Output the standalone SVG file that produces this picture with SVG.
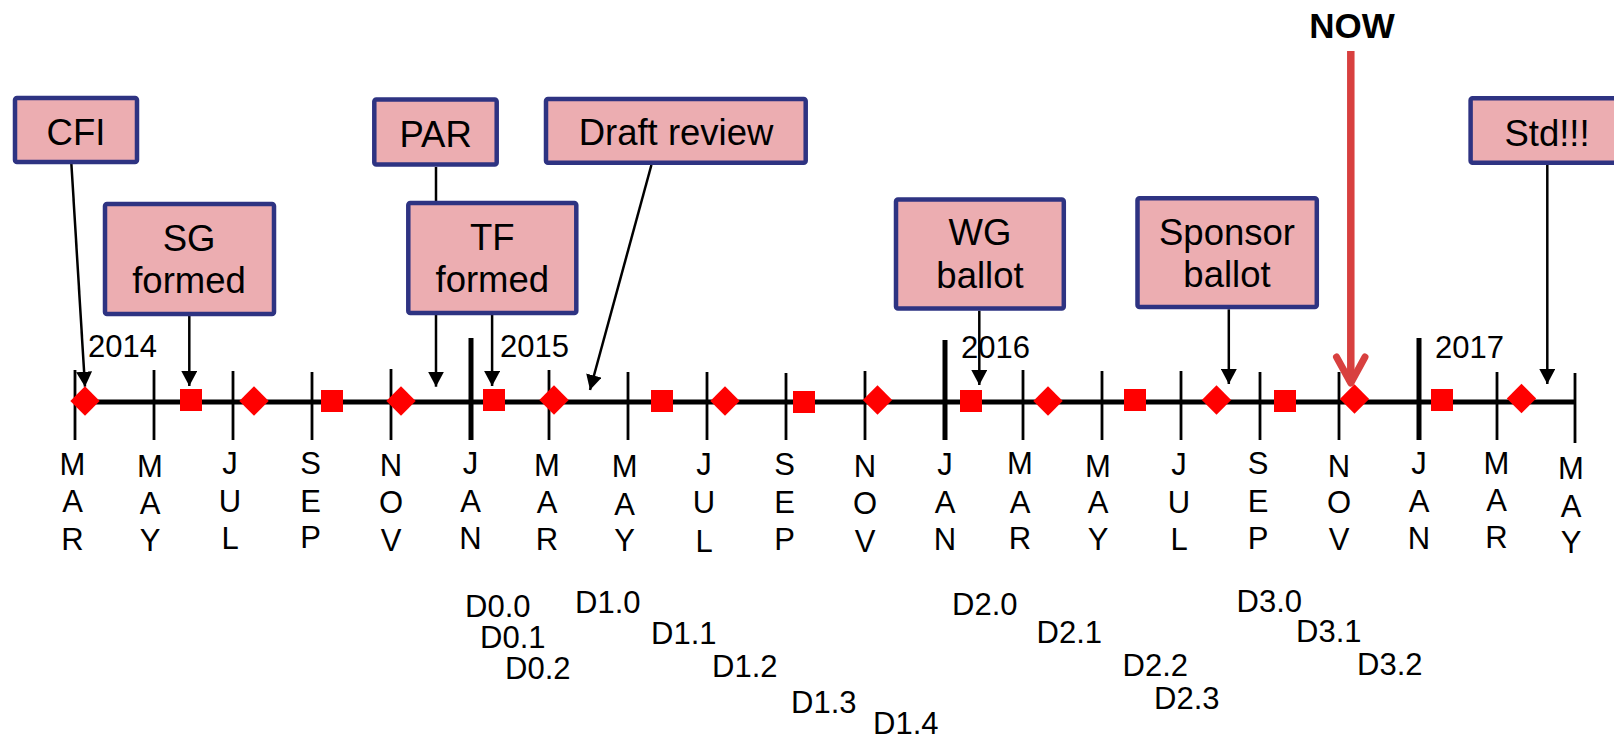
<svg xmlns="http://www.w3.org/2000/svg" width="1614" height="741" viewBox="0 0 1614 741">
<style>
  text { font-family: "Liberation Sans", Arial, sans-serif; fill: #000; }
  .box { fill: #ecadb1; stroke: #2e3382; stroke-width: 4.5; }
  .lbl { font-size: 36.5px; text-anchor: middle; }
  .mon { font-size: 31px; text-anchor: middle; }
  .yr { font-size: 31px; }
  .dr { font-size: 31px; }
  .conn { stroke: #000; stroke-width: 2.5; fill: none; marker-end: url(#ah); }
  .tick { stroke: #000; stroke-width: 2.8; }
  .ytick { stroke: #000; stroke-width: 5; }
  .dia { fill: #ff0000; }
  .sq { fill: #ff0000; }
</style>
<defs>
  <marker id="ah" markerUnits="userSpaceOnUse" viewBox="0 0 15 16" refX="15" refY="8" markerWidth="15" markerHeight="16" orient="auto">
    <path d="M0,0 L15,8 L0,16 z" fill="#000"/>
  </marker>
  <path id="d" d="M0,-14.7 L14.7,0 L0,14.7 L-14.7,0 z"/>
</defs>
<rect width="1614" height="741" fill="#fff"/>

<g id="connectors">
  <line class="conn" x1="71.4" y1="164" x2="85" y2="386.7"/>
  <line class="conn" x1="189.3" y1="316" x2="189.3" y2="386"/>
  <line class="conn" x1="436" y1="167" x2="436" y2="386.7"/>
  <line class="conn" x1="492.1" y1="315" x2="492.1" y2="386"/>
  <line class="conn" x1="651.4" y1="165" x2="590" y2="390"/>
  <line class="conn" x1="979.3" y1="310.7" x2="979.3" y2="385"/>
  <line class="conn" x1="1228.8" y1="309.3" x2="1228.8" y2="384"/>
  <line class="conn" x1="1547.3" y1="165" x2="1547.3" y2="384"/>
</g>

<g id="timeline">
  <line x1="75" y1="402" x2="1576" y2="402" stroke="#000" stroke-width="4.8"/>
  <g>
    <line class="tick" x1="75" y1="370" x2="75" y2="440"/>
    <line class="tick" x1="154" y1="370" x2="154" y2="440"/>
    <line class="tick" x1="233" y1="371" x2="233" y2="440"/>
    <line class="tick" x1="312" y1="372" x2="312" y2="440"/>
    <line class="tick" x1="391" y1="369" x2="391" y2="440"/>
    <line class="ytick" x1="471" y1="338" x2="471" y2="440"/>
    <line class="tick" x1="549" y1="370" x2="549" y2="440"/>
    <line class="tick" x1="628" y1="372" x2="628" y2="440"/>
    <line class="tick" x1="707" y1="372" x2="707" y2="440"/>
    <line class="tick" x1="786" y1="373" x2="786" y2="440"/>
    <line class="tick" x1="865" y1="371" x2="865" y2="440"/>
    <line class="ytick" x1="945" y1="340" x2="945" y2="440"/>
    <line class="tick" x1="1023" y1="370" x2="1023" y2="440"/>
    <line class="tick" x1="1102" y1="371" x2="1102" y2="440"/>
    <line class="tick" x1="1181" y1="371" x2="1181" y2="440"/>
    <line class="tick" x1="1260" y1="372" x2="1260" y2="440"/>
    <line class="tick" x1="1339" y1="372" x2="1339" y2="440"/>
    <line class="ytick" x1="1419" y1="338" x2="1419" y2="440"/>
    <line class="tick" x1="1497" y1="372" x2="1497" y2="440"/>
    <line class="tick" x1="1575" y1="373" x2="1575" y2="443"/>
  </g>
  <text class="yr" x="88" y="357">2014</text>
  <text class="yr" x="500" y="357">2015</text>
  <text class="yr" x="961" y="358">2016</text>
  <text class="yr" x="1435" y="358">2017</text>
</g>

<g id="now-arrow">
  <text x="1352" y="38" font-size="35" font-weight="bold" text-anchor="middle">NOW</text>
  <line x1="1350.8" y1="51" x2="1350.8" y2="382" stroke="#d8403f" stroke-width="7.5"/>
  <polyline points="1336.5,357 1350.8,383 1365,357" fill="none" stroke="#d8403f" stroke-width="7" stroke-linecap="round" stroke-linejoin="round"/>
</g>

<g id="markers">
  <use href="#d" class="dia" x="85" y="401"/>
  <rect class="sq" x="180" y="389" width="22" height="22"/>
  <use href="#d" class="dia" x="254" y="401"/>
  <rect class="sq" x="321" y="390" width="22" height="22"/>
  <use href="#d" class="dia" x="401" y="401"/>
  <rect class="sq" x="483" y="389" width="22" height="22"/>
  <use href="#d" class="dia" x="554" y="400"/>
  <rect class="sq" x="651" y="390" width="22" height="22"/>
  <use href="#d" class="dia" x="725" y="401"/>
  <rect class="sq" x="793" y="391" width="22" height="22"/>
  <use href="#d" class="dia" x="877.5" y="400"/>
  <rect class="sq" x="960" y="390" width="22" height="22"/>
  <use href="#d" class="dia" x="1048" y="401"/>
  <rect class="sq" x="1124" y="389" width="22" height="22"/>
  <use href="#d" class="dia" x="1216.5" y="400"/>
  <rect class="sq" x="1274" y="390" width="22" height="22"/>
  <use href="#d" class="dia" x="1354.5" y="399"/>
  <rect class="sq" x="1431" y="389" width="22" height="22"/>
  <use href="#d" class="dia" x="1521.5" y="398.5"/>
</g>

<g id="months">
  <text class="mon" x="72.5" y="475">M</text><text class="mon" x="72.5" y="512">A</text><text class="mon" x="72.5" y="550">R</text>
  <text class="mon" x="150" y="477">M</text><text class="mon" x="150" y="514">A</text><text class="mon" x="150" y="551">Y</text>
  <text class="mon" x="230" y="474">J</text><text class="mon" x="230" y="512">U</text><text class="mon" x="230" y="549">L</text>
  <text class="mon" x="310.5" y="474">S</text><text class="mon" x="310.5" y="512">E</text><text class="mon" x="310.5" y="548">P</text>
  <text class="mon" x="391" y="476">N</text><text class="mon" x="391" y="513">O</text><text class="mon" x="391" y="551">V</text>
  <text class="mon" x="470.5" y="474">J</text><text class="mon" x="470.5" y="512">A</text><text class="mon" x="470.5" y="549">N</text>
  <text class="mon" x="547" y="476">M</text><text class="mon" x="547" y="513">A</text><text class="mon" x="547" y="550">R</text>
  <text class="mon" x="624.6" y="477">M</text><text class="mon" x="624.6" y="515">A</text><text class="mon" x="624.6" y="551">Y</text>
  <text class="mon" x="704" y="475">J</text><text class="mon" x="704" y="513">U</text><text class="mon" x="704" y="552">L</text>
  <text class="mon" x="784.6" y="475">S</text><text class="mon" x="784.6" y="513">E</text><text class="mon" x="784.6" y="550">P</text>
  <text class="mon" x="865" y="477">N</text><text class="mon" x="865" y="514">O</text><text class="mon" x="865" y="552">V</text>
  <text class="mon" x="945" y="475">J</text><text class="mon" x="945" y="513">A</text><text class="mon" x="945" y="550">N</text>
  <text class="mon" x="1020" y="474">M</text><text class="mon" x="1020" y="513">A</text><text class="mon" x="1020" y="549">R</text>
  <text class="mon" x="1098" y="477">M</text><text class="mon" x="1098" y="513">A</text><text class="mon" x="1098" y="550">Y</text>
  <text class="mon" x="1179" y="475">J</text><text class="mon" x="1179" y="513">U</text><text class="mon" x="1179" y="550">L</text>
  <text class="mon" x="1258" y="474">S</text><text class="mon" x="1258" y="512">E</text><text class="mon" x="1258" y="549">P</text>
  <text class="mon" x="1339" y="477">N</text><text class="mon" x="1339" y="513">O</text><text class="mon" x="1339" y="550">V</text>
  <text class="mon" x="1419" y="474">J</text><text class="mon" x="1419" y="512">A</text><text class="mon" x="1419" y="549">N</text>
  <text class="mon" x="1496.5" y="474">M</text><text class="mon" x="1496.5" y="511">A</text><text class="mon" x="1496.5" y="548">R</text>
  <text class="mon" x="1571" y="479">M</text><text class="mon" x="1571" y="517">A</text><text class="mon" x="1571" y="553">Y</text>
</g>

<g id="drafts">
  <text class="dr" x="465" y="617">D0.0</text>
  <text class="dr" x="480" y="648">D0.1</text>
  <text class="dr" x="505" y="679">D0.2</text>
  <text class="dr" x="575" y="613">D1.0</text>
  <text class="dr" x="651" y="644">D1.1</text>
  <text class="dr" x="712" y="677">D1.2</text>
  <text class="dr" x="791" y="713">D1.3</text>
  <text class="dr" x="873" y="734">D1.4</text>
  <text class="dr" x="952" y="615">D2.0</text>
  <text class="dr" x="1036.5" y="643">D2.1</text>
  <text class="dr" x="1122.5" y="676">D2.2</text>
  <text class="dr" x="1154" y="709">D2.3</text>
  <text class="dr" x="1236.5" y="612">D3.0</text>
  <text class="dr" x="1296" y="642">D3.1</text>
  <text class="dr" x="1357" y="675">D3.2</text>
</g>

<g id="node-cfi">
  <rect class="box" x="15" y="98" width="122" height="64" rx="2"/>
  <text class="lbl" x="76" y="145">CFI</text>
</g>
<g id="node-sg">
  <rect class="box" x="105" y="204" width="169" height="110" rx="2"/>
  <text class="lbl" x="189" y="251">SG</text>
  <text class="lbl" x="189" y="293">formed</text>
</g>
<g id="node-par">
  <rect class="box" x="374.3" y="99.5" width="122.4" height="65" rx="2"/>
  <text class="lbl" x="435.6" y="146.5">PAR</text>
</g>
<g id="node-tf">
  <rect class="box" x="408.3" y="203" width="168" height="110" rx="2"/>
  <text class="lbl" x="492.3" y="249.5">TF</text>
  <text class="lbl" x="492.3" y="291.5">formed</text>
</g>
<g id="node-draft">
  <rect class="box" x="546" y="99" width="259.7" height="63.8" rx="2"/>
  <text class="lbl" x="676" y="145">Draft review</text>
</g>
<g id="node-wg">
  <rect class="box" x="896" y="199.6" width="167.8" height="108.8" rx="2"/>
  <text class="lbl" x="980" y="245">WG</text>
  <text class="lbl" x="980" y="288.3">ballot</text>
</g>
<g id="node-sponsor">
  <rect class="box" x="1137.5" y="198.3" width="179.3" height="108.8" rx="2"/>
  <text class="lbl" x="1227" y="245">Sponsor</text>
  <text class="lbl" x="1227" y="287.3">ballot</text>
</g>
<g id="node-std">
  <rect class="box" x="1470.6" y="98.3" width="155" height="64.5" rx="2"/>
  <text class="lbl" x="1547" y="145.7">Std!!!</text>
</g>
</svg>
